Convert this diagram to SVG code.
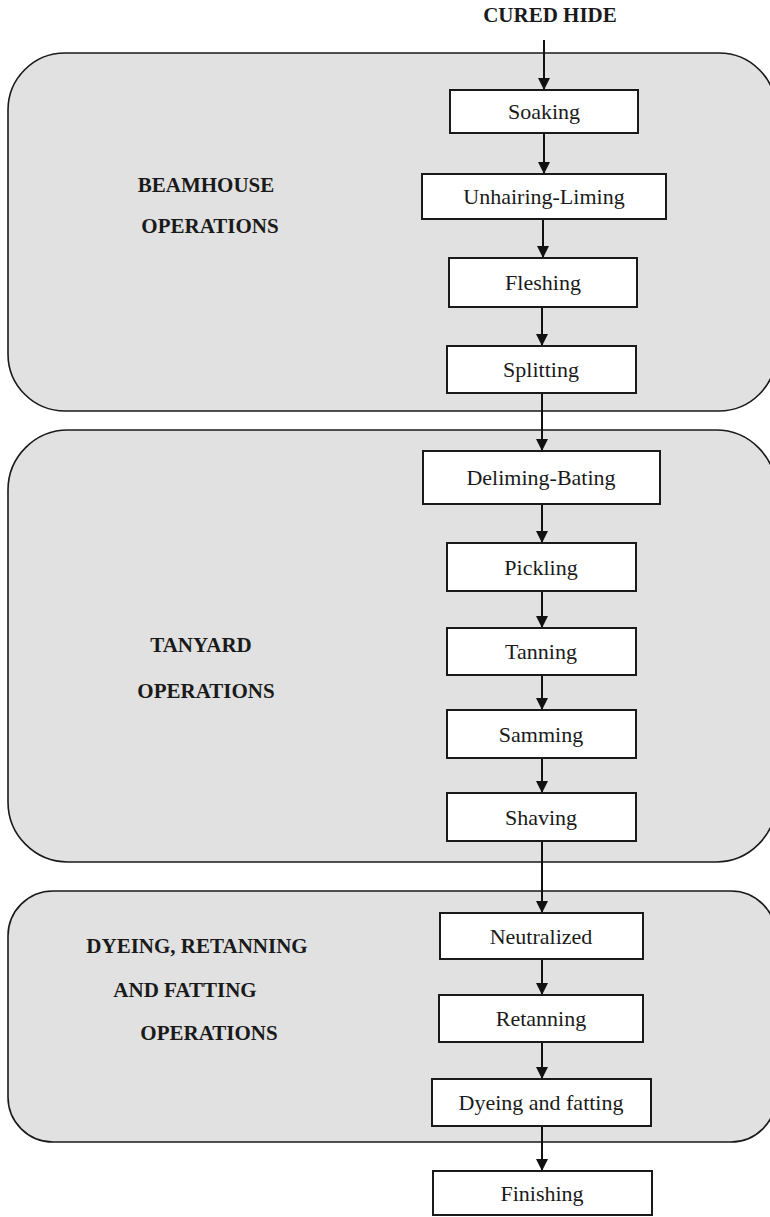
<svg xmlns="http://www.w3.org/2000/svg" width="770" height="1217" viewBox="0 0 770 1217">
  <defs>
    <marker id="arrow" markerUnits="userSpaceOnUse" markerWidth="12" markerHeight="13" refX="12" refY="6" orient="auto">
      <path d="M0,0 L12,6 L0,12 z" fill="#111"/>
    </marker>
    <style>
      .stage { fill: #e1e1e1; stroke: #1a1a1a; stroke-width: 1.6; }
      .box { fill: #ffffff; stroke: #1a1a1a; stroke-width: 2; }
      .step { font-family: "Liberation Serif", "Times New Roman", serif; font-size: 22px; fill: #1a1a1a; text-anchor: middle; }
      .label { font-family: "Liberation Serif", "Times New Roman", serif; font-size: 21px; font-weight: bold; fill: #1a1a1a; text-anchor: middle; }
      .link { stroke: #111; stroke-width: 2; fill: none; marker-end: url(#arrow); }
    </style>
  </defs>

  <rect width="770" height="1217" fill="#ffffff"/>

  <!-- process stages -->
  <g id="stage-beamhouse">
    <rect class="stage" x="8" y="53" width="768" height="358" rx="57" ry="57"/>
    <text class="label" x="206" y="192">BEAMHOUSE</text>
    <text class="label" x="210" y="233">OPERATIONS</text>
  </g>
  <g id="stage-tanyard">
    <rect class="stage" x="8" y="430" width="768" height="432" rx="60" ry="60"/>
    <text class="label" x="201" y="652">TANYARD</text>
    <text class="label" x="206" y="698">OPERATIONS</text>
  </g>
  <g id="stage-dyeing">
    <rect class="stage" x="8" y="891" width="768" height="251" rx="45" ry="45"/>
    <text class="label" x="197" y="953">DYEING, RETANNING</text>
    <text class="label" x="185" y="997">AND FATTING</text>
    <text class="label" x="209" y="1040">OPERATIONS</text>
  </g>

  <!-- input -->
  <g id="cured-hide">
    <text class="label" x="550" y="22">CURED HIDE</text>
  </g>

  <!-- connectors -->
  <g id="connectors">
    <line class="link" x1="544" y1="40" x2="544" y2="90"/>
    <line class="link" x1="544" y1="133" x2="544" y2="174"/>
    <line class="link" x1="543" y1="219" x2="543" y2="258"/>
    <line class="link" x1="542" y1="307" x2="542" y2="346"/>
    <line class="link" x1="542" y1="393" x2="542" y2="451"/>
    <line class="link" x1="542" y1="504" x2="542" y2="543"/>
    <line class="link" x1="542" y1="591" x2="542" y2="628"/>
    <line class="link" x1="542" y1="675" x2="542" y2="710"/>
    <line class="link" x1="542" y1="758" x2="542" y2="793"/>
    <line class="link" x1="542" y1="841" x2="542" y2="913"/>
    <line class="link" x1="542" y1="959" x2="542" y2="995"/>
    <line class="link" x1="542" y1="1042" x2="542" y2="1079"/>
    <line class="link" x1="542" y1="1126" x2="542" y2="1171"/>
  </g>

  <!-- steps -->
  <g id="soaking">
    <rect class="box" x="450" y="90" width="188" height="43"/>
    <text class="step" x="544" y="119">Soaking</text>
  </g>
  <g id="unhairing-liming">
    <rect class="box" x="422" y="174" width="244" height="45"/>
    <text class="step" x="544" y="204">Unhairing-Liming</text>
  </g>
  <g id="fleshing">
    <rect class="box" x="449" y="258" width="188" height="49"/>
    <text class="step" x="543" y="290">Fleshing</text>
  </g>
  <g id="splitting">
    <rect class="box" x="447" y="346" width="189" height="47"/>
    <text class="step" x="541" y="377">Splitting</text>
  </g>
  <g id="deliming-bating">
    <rect class="box" x="423" y="451" width="237" height="53"/>
    <text class="step" x="541" y="485">Deliming-Bating</text>
  </g>
  <g id="pickling">
    <rect class="box" x="447" y="543" width="189" height="48"/>
    <text class="step" x="541" y="575">Pickling</text>
  </g>
  <g id="tanning">
    <rect class="box" x="447" y="628" width="189" height="47"/>
    <text class="step" x="541" y="659">Tanning</text>
  </g>
  <g id="samming">
    <rect class="box" x="447" y="710" width="189" height="48"/>
    <text class="step" x="541" y="742">Samming</text>
  </g>
  <g id="shaving">
    <rect class="box" x="447" y="793" width="189" height="48"/>
    <text class="step" x="541" y="825">Shaving</text>
  </g>
  <g id="neutralized">
    <rect class="box" x="440" y="913" width="203" height="46"/>
    <text class="step" x="541" y="944">Neutralized</text>
  </g>
  <g id="retanning">
    <rect class="box" x="439" y="995" width="204" height="47"/>
    <text class="step" x="541" y="1026">Retanning</text>
  </g>
  <g id="dyeing-fatting">
    <rect class="box" x="432" y="1079" width="219" height="47"/>
    <text class="step" x="541" y="1110">Dyeing and fatting</text>
  </g>
  <g id="finishing">
    <rect class="box" x="433" y="1171" width="219" height="44"/>
    <text class="step" x="542" y="1201">Finishing</text>
  </g>
</svg>
